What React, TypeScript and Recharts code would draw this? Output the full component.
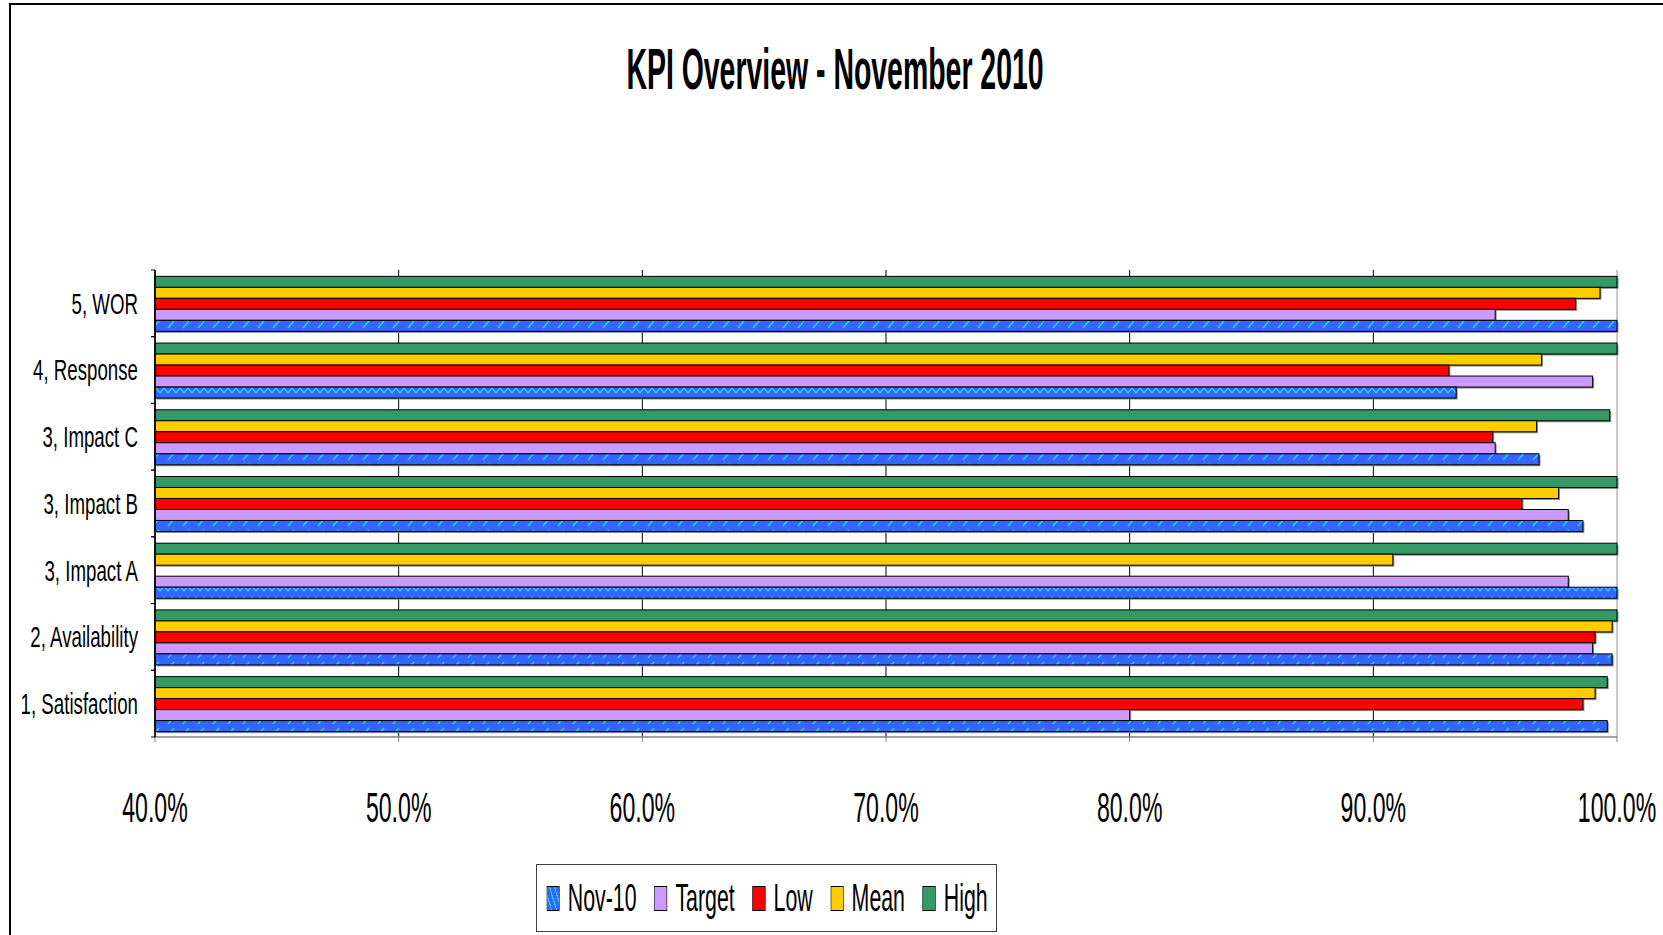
import React from 'react';
import { BarChart, Bar, XAxis, YAxis, CartesianGrid, Legend, Cell } from 'recharts';

// KPI values in percent, top row of the chart first
const categories = ['5, WOR', '4, Response', '3, Impact C', '3, Impact B', '3, Impact A', '2, Availability', '1, Satisfaction'];
const nov10 = [100, 93.4, 96.8, 98.6, 100, 99.8, 99.6];
const target = [95, 99, 95, 98, 98, 99, 80];
const low = [98.3, 93.1, 94.9, 96.1, null, 99.1, 98.6];
const mean = [99.3, 96.9, 96.7, 97.6, 90.8, 99.8, 99.1];
const high = [100, 100, 99.7, 100, 100, 100, 99.6];
const xTicks = [40, 50, 60, 70, 80, 90, 100];
const legendOrder = ['Nov-10', 'Target', 'Low', 'Mean', 'High'];

const data = categories.map((name, i) => ({
  name,
  nov10: nov10[i],
  target: target[i],
  low: low[i],
  mean: mean[i],
  high: high[i],
}));

// pattern used by the Nov-10 bar in each row
const novPattern = ['slash', 'zig', 'slash', 'slash', 'zig', 'slash', 'slash'];

const FONT = '"Liberation Sans", Arial, sans-serif';
const W = 1663;
const H = 935;
const PLOT_TOP = 270;
const PLOT_BOTTOM = 737;
const BAND = (PLOT_BOTTOM - PLOT_TOP) / categories.length;

const swatch: Record<string, string> = {
  'Nov-10': 'repeating-linear-gradient(60deg, #3366ff 0 6px, #33ccff 6px 8px)',
  Target: '#cc99ff',
  Low: '#ff0000',
  Mean: '#ffcc00',
  High: '#339966',
};

const ShadowBar = (props: any) => {
  const { x, y, width, height, fill } = props;
  if (!width || width <= 0) return null;
  return (
    <g>
      <rect x={x + 1.5} y={y + 1.5} width={width} height={height} fill="#8c8c8c" />
      <rect x={x} y={y} width={width} height={height} fill={fill} stroke="#000" strokeWidth={1} />
    </g>
  );
};

const YTick = ({ x, y, payload }: any) => {
  const axisX = x + 17;
  return (
    <g>
      <line x1={axisX - 4} x2={axisX} y1={y - BAND / 2} y2={y - BAND / 2} stroke="#000" />
      <line x1={axisX - 4} x2={axisX} y1={y + BAND / 2} y2={y + BAND / 2} stroke="#000" />
      <text transform={`translate(${x},${y + 10.4}) scale(0.645,1)`} textAnchor="end" fontFamily={FONT} fontSize={29} fill="#000">
        {payload.value}
      </text>
    </g>
  );
};

const XTick = ({ x, y, payload }: any) => (
  <text transform={`translate(${x},${y + 80}) scale(0.538,1)`} textAnchor="middle" fontFamily={FONT} fontSize={43} fill="#000">
    {`${Number(payload.value).toFixed(1)}%`}
  </text>
);

const renderLegend = (props: any) => {
  const items = [...(props.payload || [])].sort(
    (a: any, b: any) => legendOrder.indexOf(a.value) - legendOrder.indexOf(b.value)
  );
  return (
    <div style={{ boxSizing: 'border-box', width: 461, height: 68, border: '1px solid #404040', background: '#fff', display: 'flex', alignItems: 'center', overflow: 'hidden' }}>
      <div style={{ display: 'flex', alignItems: 'center', transform: 'scaleX(0.54)', transformOrigin: 'left center', paddingLeft: 18, whiteSpace: 'nowrap' }}>
        {items.map((it: any, i: number) => (
          <div key={it.value} style={{ display: 'flex', alignItems: 'center', marginRight: i < items.length - 1 ? 33 : 0 }}>
            <span style={{ display: 'inline-block', boxSizing: 'border-box', width: 24, height: 25, border: '1px solid #000', background: swatch[it.value], marginRight: 15 }} />
            <span style={{ fontFamily: FONT, fontSize: 39.5, lineHeight: 1, color: '#000' }}>{it.value}</span>
          </div>
        ))}
      </div>
    </div>
  );
};

export default function App() {
  return (
    <div style={{ position: 'relative', width: W, height: H, background: '#fff', overflow: 'hidden' }}>
      <style>{'body{margin:0} .recharts-cartesian-grid-vertical line:last-child{stroke:#c8c8c8;stroke-width:2}'}</style>
      <div style={{ position: 'absolute', left: 9, top: 3, width: W + 50, height: H + 50, borderTop: '2px solid #000', borderLeft: '2px solid #000' }} />
      <svg width={W} height={110} style={{ position: 'absolute', left: 0, top: 0 }}>
        <text transform="translate(835,89) scale(0.499,1)" textAnchor="middle" fontFamily={FONT} fontWeight="bold" fontSize={57} fill="#000">
          KPI Overview - November 2010
        </text>
      </svg>
      <div style={{ position: 'absolute', left: 0, top: 0 }}>
        <BarChart
          width={W}
          height={H}
          data={data}
          layout="vertical"
          barCategoryGap="9.5%"
          barGap={0}
          margin={{ top: PLOT_TOP, right: W - 1617, bottom: H - PLOT_BOTTOM - 90, left: 0 }}
        >
          <defs>
            <pattern id="slash" width="15" height="11" patternUnits="userSpaceOnUse">
              <rect width="15" height="11" fill="#3366ff" />
              <path d="M3 9 L9 2" stroke="#33ccff" strokeWidth="1.5" />
            </pattern>
            <pattern id="zig" width="16" height="11" patternUnits="userSpaceOnUse">
              <rect width="16" height="11" fill="#3366ff" />
              <path d="M0 8 L4 3 L8 8 L12 3 L16 8" stroke="#33ccff" strokeWidth="1.4" fill="none" />
            </pattern>
          </defs>
          <CartesianGrid horizontal={false} stroke="#000" strokeWidth={1} />
          <XAxis
            type="number"
            domain={[40, 100]}
            ticks={xTicks}
            interval={0}
            height={90}
            axisLine={{ stroke: '#808080', strokeWidth: 1.5 }}
            tickLine={{ stroke: '#808080' }}
            tickSize={5}
            tickMargin={0}
            tick={<XTick />}
          />
          <YAxis
            type="category"
            dataKey="name"
            width={155}
            axisLine={{ stroke: '#000', strokeWidth: 1.5 }}
            tickLine={false}
            tickSize={4}
            tickMargin={13}
            interval={0}
            tick={<YTick />}
          />
          <Legend
            layout="horizontal"
            verticalAlign="middle"
            align="center"
            content={renderLegend}
            wrapperStyle={{ left: 536, top: 864, width: 461, height: 68 }}
          />
          <Bar dataKey="high" name="High" fill="#339966" shape={<ShadowBar />} isAnimationActive={false} />
          <Bar dataKey="mean" name="Mean" fill="#ffcc00" shape={<ShadowBar />} isAnimationActive={false} />
          <Bar dataKey="low" name="Low" fill="#ff0000" shape={<ShadowBar />} isAnimationActive={false} />
          <Bar dataKey="target" name="Target" fill="#cc99ff" shape={<ShadowBar />} isAnimationActive={false} />
          <Bar dataKey="nov10" name="Nov-10" fill="#3366ff" shape={<ShadowBar />} isAnimationActive={false}>
            {data.map((d, i) => (
              <Cell key={d.name} fill={`url(#${novPattern[i]})`} />
            ))}
          </Bar>
        </BarChart>
      </div>
    </div>
  );
}
